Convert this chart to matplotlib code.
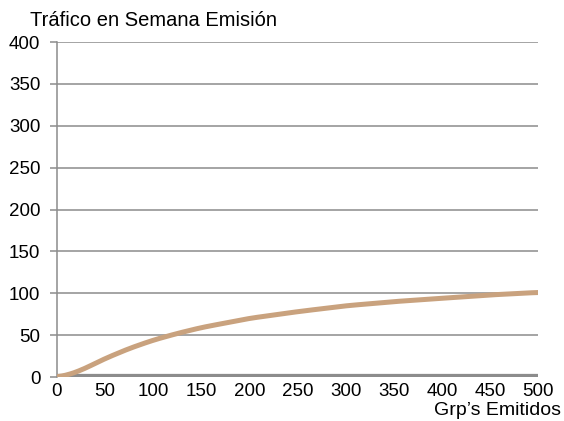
import numpy as np
import matplotlib
matplotlib.use('Agg')
import matplotlib.pyplot as plt

plt.rcParams['font.family'] = ['Liberation Sans', 'DejaVu Sans']

# Data
grps = [0, 10, 25, 50, 75, 100, 125, 150, 200, 250, 300, 350, 400, 450, 500]
trafico = [0, 2, 8, 22, 34, 44, 52, 59, 70, 78, 85, 90, 94, 98, 101]

yTicks = [0, 50, 100, 150, 200, 250, 300, 350, 400]
xTicks = [0, 50, 100, 150, 200, 250, 300, 350, 400, 450, 500]

gridColor = '#8c8c8c'
curveColor = '#c9a27e'

fig = plt.figure(figsize=(5.64, 4.21), dpi=100)
ax = fig.add_axes([0.101, 0.1045, 0.853, 0.7957])

# smooth curve through the read points
xs = np.linspace(0, 500, 400)
ys = np.interp(xs, grps, trafico)
kernel = np.ones(15) / 15
ysm = np.convolve(np.pad(ys, 7, mode='edge'), kernel, mode='valid')
ysm[0] = trafico[0]
ax.plot(xs, ysm, color=curveColor, lw=3.6, solid_capstyle='round', zorder=4)

ax.set_xlim(0, 500)
ax.set_ylim(0, 400)
ax.set_yticks(yTicks)
ax.set_xticks(xTicks)
for t in yTicks[1:]:
    ax.axhline(t, color=gridColor, lw=1.1, zorder=1)
ax.axhline(0, color=gridColor, lw=4.5, zorder=3, solid_capstyle='butt')

for s in ['top', 'right', 'bottom']:
    ax.spines[s].set_visible(False)
ax.spines['left'].set_color(gridColor)
ax.spines['left'].set_linewidth(1.1)
ax.tick_params(axis='y', length=5, color=gridColor, width=1.1, labelsize=13.5, pad=7)
ax.tick_params(axis='x', length=0, labelsize=13.5, pad=4.5)

fig.text(0.053, 0.952, 'Tráfico en Semana Emisión', fontsize=14.5, va='center', ha='left')
fig.text(0.995, 0.026, 'Grp\u2019s Emitidos', fontsize=14, va='center', ha='right')

fig.savefig('out.png', dpi=100)
